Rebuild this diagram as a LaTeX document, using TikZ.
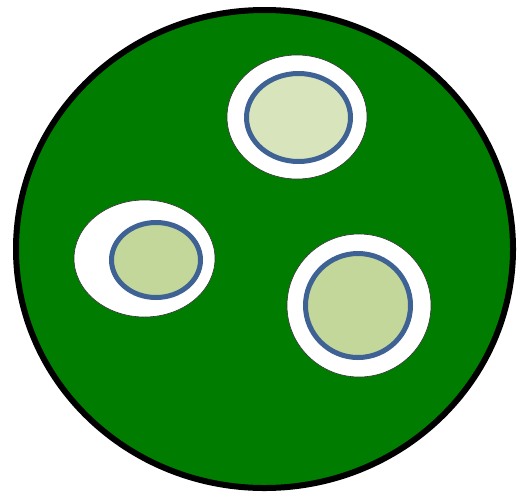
\documentclass[tikz,border=0pt]{standalone}
\usepackage{tikz}
\definecolor{cellgreen}{RGB}{0,125,0}
\definecolor{palegreen}{RGB}{216,228,188}
\definecolor{olivegreen}{RGB}{196,215,155}
\definecolor{rimblue}{RGB}{62,98,148}

\begin{document}
\begin{tikzpicture}[
    x=1pt, y=-1pt,
    cell/.style={draw=black, line width=6pt, fill=cellgreen},
    halo/.style={draw=black!80, line width=0.6pt, fill=white},
    core/.style={draw=rimblue, line width=5pt}
  ]
  \useasboundingbox (0,0) rectangle (518,493);

  \draw[cell] (264.5,249) ellipse [x radius=248.5, y radius=239];

  \draw[halo] (297,117) ellipse [x radius=70, y radius=62];
  \draw[core, fill=palegreen] (298.5,117.5) ellipse [x radius=52, y radius=44];

  \draw[halo] (144.5,258.5) ellipse [x radius=70.5, y radius=58.5];
  \draw[core, fill=olivegreen] (156,260) ellipse [x radius=44.5, y radius=37.5];

  \draw[halo] (359,305.5) ellipse [x radius=72, y radius=71.5];
  \draw[core, fill=olivegreen] (358,305.5) ellipse [x radius=52.5, y radius=52];
\end{tikzpicture}
\end{document}
